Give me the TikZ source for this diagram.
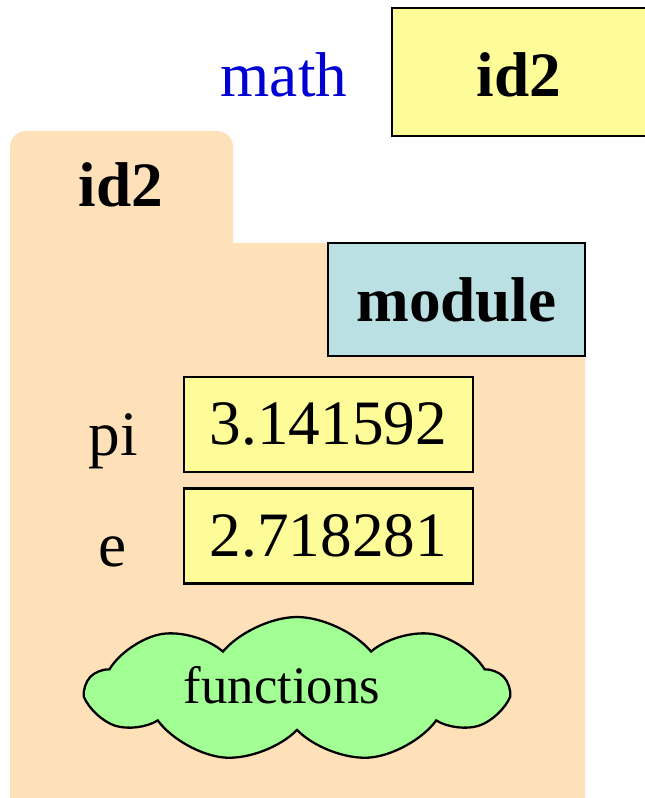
\documentclass[tikz,border=0pt]{standalone}
\usepackage{fontspec}
\setmainfont{Liberation Serif}
\usepackage{tikz}
\usetikzlibrary{positioning,shapes.symbols}

\definecolor{foldercol}{RGB}{255,225,185}
\definecolor{valcol}{RGB}{254,252,152}
\definecolor{typecol}{RGB}{187,224,227}
\definecolor{cloudcol}{RGB}{162,255,148}
\definecolor{namecol}{RGB}{0,0,210}

\tikzset{
	big/.style={font=\fontsize{36}{40}\selectfont},
	valbox/.style={draw, line width=1.6pt, fill=valcol},
	typebox/.style={draw, line width=1.6pt, fill=typecol, big, minimum width=5.14cm, minimum height=2.26cm},
	cloudbox/.style={cloud, draw, line width=1.3pt, fill=cloudcol, cloud puffs=9, cloud puff arc=100, minimum width=8.4cm, minimum height=2.9cm}
}

\begin{document}
\begin{tikzpicture}[x=0.02cm, y=0.02cm]
				\useasboundingbox (0,0) rectangle (645,798);
				\clip (0,0) rectangle (645,798);
				% variable in the global space
				\node[big, text=namecol] (mathname) at (284,723) {math};
				\draw[valbox] (392,662) rectangle (700,790);
				\node[big] (mathval) at (519,723) {\textbf{id2}};
				% the folder
				\fill[foldercol] (10,-20) -- (10,651) arc[start angle=180, end angle=90, radius=16]
					-- (217,667) arc[start angle=90, end angle=0, radius=16]
					-- (233,555) -- (585,555) -- (585,-20) -- cycle;
				\node[big] (foldername) at (121,613) {\textbf{id2}};
				\node[typebox] (foldertype) at (456.5,498.5) {\textbf{module}};
				% the attributes
				\node[valbox, big, minimum width=5.78cm, minimum height=1.9cm] (pival) at (328.5,373.5) {3.141592};
				\node[big] (piname) at (113,357) {pi};
				\node[valbox, big, minimum width=5.78cm, minimum height=1.9cm] (eval) at (328.5,262) {2.718281};
				\node[big] (ename) at (113,246) {e};
				\node[cloudbox] (funcs) at (297,108.5) {};
				\node[font=\fontsize{30}{34}\selectfont] (funclabel) at (282,113) {functions};
	\end{tikzpicture}
\end{document}
